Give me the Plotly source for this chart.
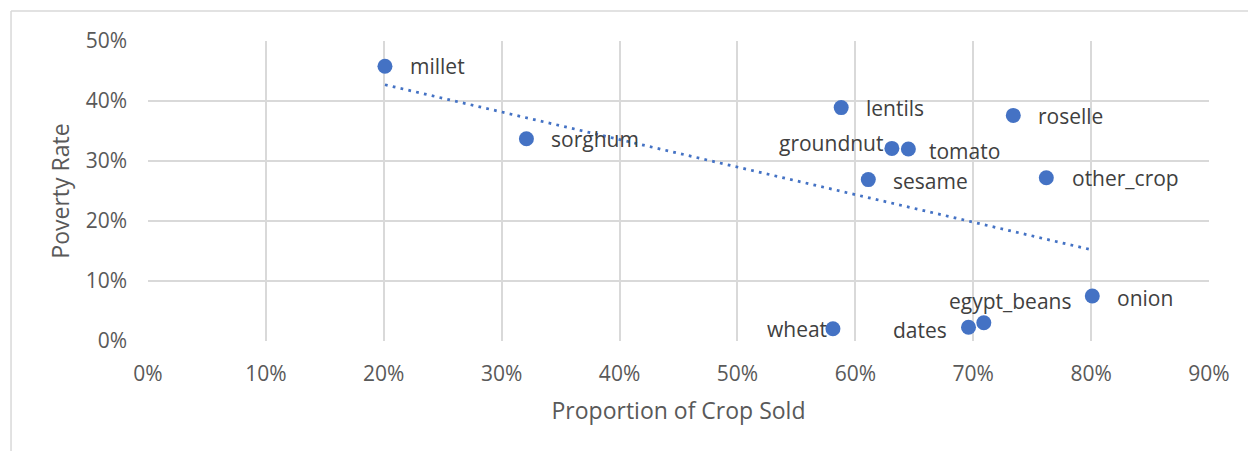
import numpy as np
import plotly.graph_objects as go

# Crop-level figures: share of harvest sold vs. household poverty rate (percent)
crops = ["millet", "sorghum", "lentils", "roselle", "groundnut", "tomato",
         "sesame", "other_crop", "onion", "wheat", "dates", "egypt_beans"]
prop_sold = [20.1, 32.1, 58.8, 73.4, 63.1, 64.5, 61.1, 76.2, 80.1, 58.1, 69.6, 70.9]
poverty_rate = [45.8, 33.7, 38.9, 37.6, 32.1, 32.0, 26.9, 27.2, 7.5, 2.05, 2.3, 3.05]

# Label placement per crop: (anchor, x shift px, y shift px)
label_place = {
    "millet": ("left", 23, 0),
    "sorghum": ("left", 23, 0),
    "lentils": ("left", 23, 0),
    "roselle": ("left", 23, -1),
    "groundnut": ("right", -7, 5),
    "tomato": ("left", 19, -2),
    "sesame": ("left", 23, -1),
    "other_crop": ("left", 24, 0),
    "onion": ("left", 23, -2),
    "wheat": ("right", -4, 0),
    "dates": ("right", -20, -3),
    "egypt_beans": ("center", 26, 22),
}

BLUE = "#4472C4"
GRID = "#D9D9D9"
TEXT = "#595959"
LABEL = "#404040"
FONT = "Open Sans"

# Linear least-squares trendline over the observed x span
x_arr = np.array(prop_sold)
y_arr = np.array(poverty_rate)
slope, intercept = np.polyfit(x_arr, y_arr, 1)
trend_x = np.array([x_arr.min(), x_arr.max()])
trend_y = slope * trend_x + intercept

fig = go.Figure()
fig.add_trace(go.Scatter(
    x=trend_x, y=trend_y, mode="lines",
    line=dict(color=BLUE, width=2.75, dash="2.75px,5.25px"),
    hoverinfo="skip", showlegend=False,
))
fig.add_trace(go.Scatter(
    x=prop_sold, y=poverty_rate, mode="markers",
    marker=dict(color=BLUE, size=15, line=dict(width=0)),
    text=crops, hovertemplate="%{text}: %{x}%, %{y}%<extra></extra>",
    showlegend=False,
))

for name, xv, yv in zip(crops, prop_sold, poverty_rate):
    anchor, dx, dy = label_place[name]
    fig.add_annotation(
        x=xv, y=yv, text=name, showarrow=False,
        xanchor=anchor, yanchor="middle", xshift=dx, yshift=dy,
        font=dict(family=FONT, size=21, color=LABEL),
    )

axis_common = dict(
    showgrid=True, gridcolor=GRID, gridwidth=1.5,
    zeroline=False, showline=False, ticks="",
    ticksuffix="%", tickfont=dict(family=FONT, size=21, color=TEXT),
    title_font=dict(family=FONT, size=23, color=TEXT),
    fixedrange=True,
)

fig.update_xaxes(
    range=[0, 90], dtick=10, tick0=0,
    title_text="Proportion of Crop Sold", title_standoff=16,
    ticklabelstandoff=18, **axis_common,
)
fig.update_yaxes(
    range=[0, 50], dtick=10, tick0=0,
    title_text="Poverty Rate", title_standoff=9,
    ticklabelstandoff=20, **axis_common,
)

# Chart frame (top and left edges visible)
fig.add_shape(type="line", xref="paper", yref="paper",
              x0=-0.1291, x1=1.2, y0=1.1, y1=1.1,
              line=dict(color=GRID, width=1.5))
fig.add_shape(type="line", xref="paper", yref="paper",
              x0=-0.1291, x1=-0.1291, y0=1.1, y1=-0.5,
              line=dict(color=GRID, width=1.5))

fig.update_layout(
    width=1248, height=451,
    margin=dict(l=148, r=39, t=41, b=110),
    paper_bgcolor="white", plot_bgcolor="white",
    font=dict(family=FONT, color=TEXT),
)

fig.write_html("out.html")
